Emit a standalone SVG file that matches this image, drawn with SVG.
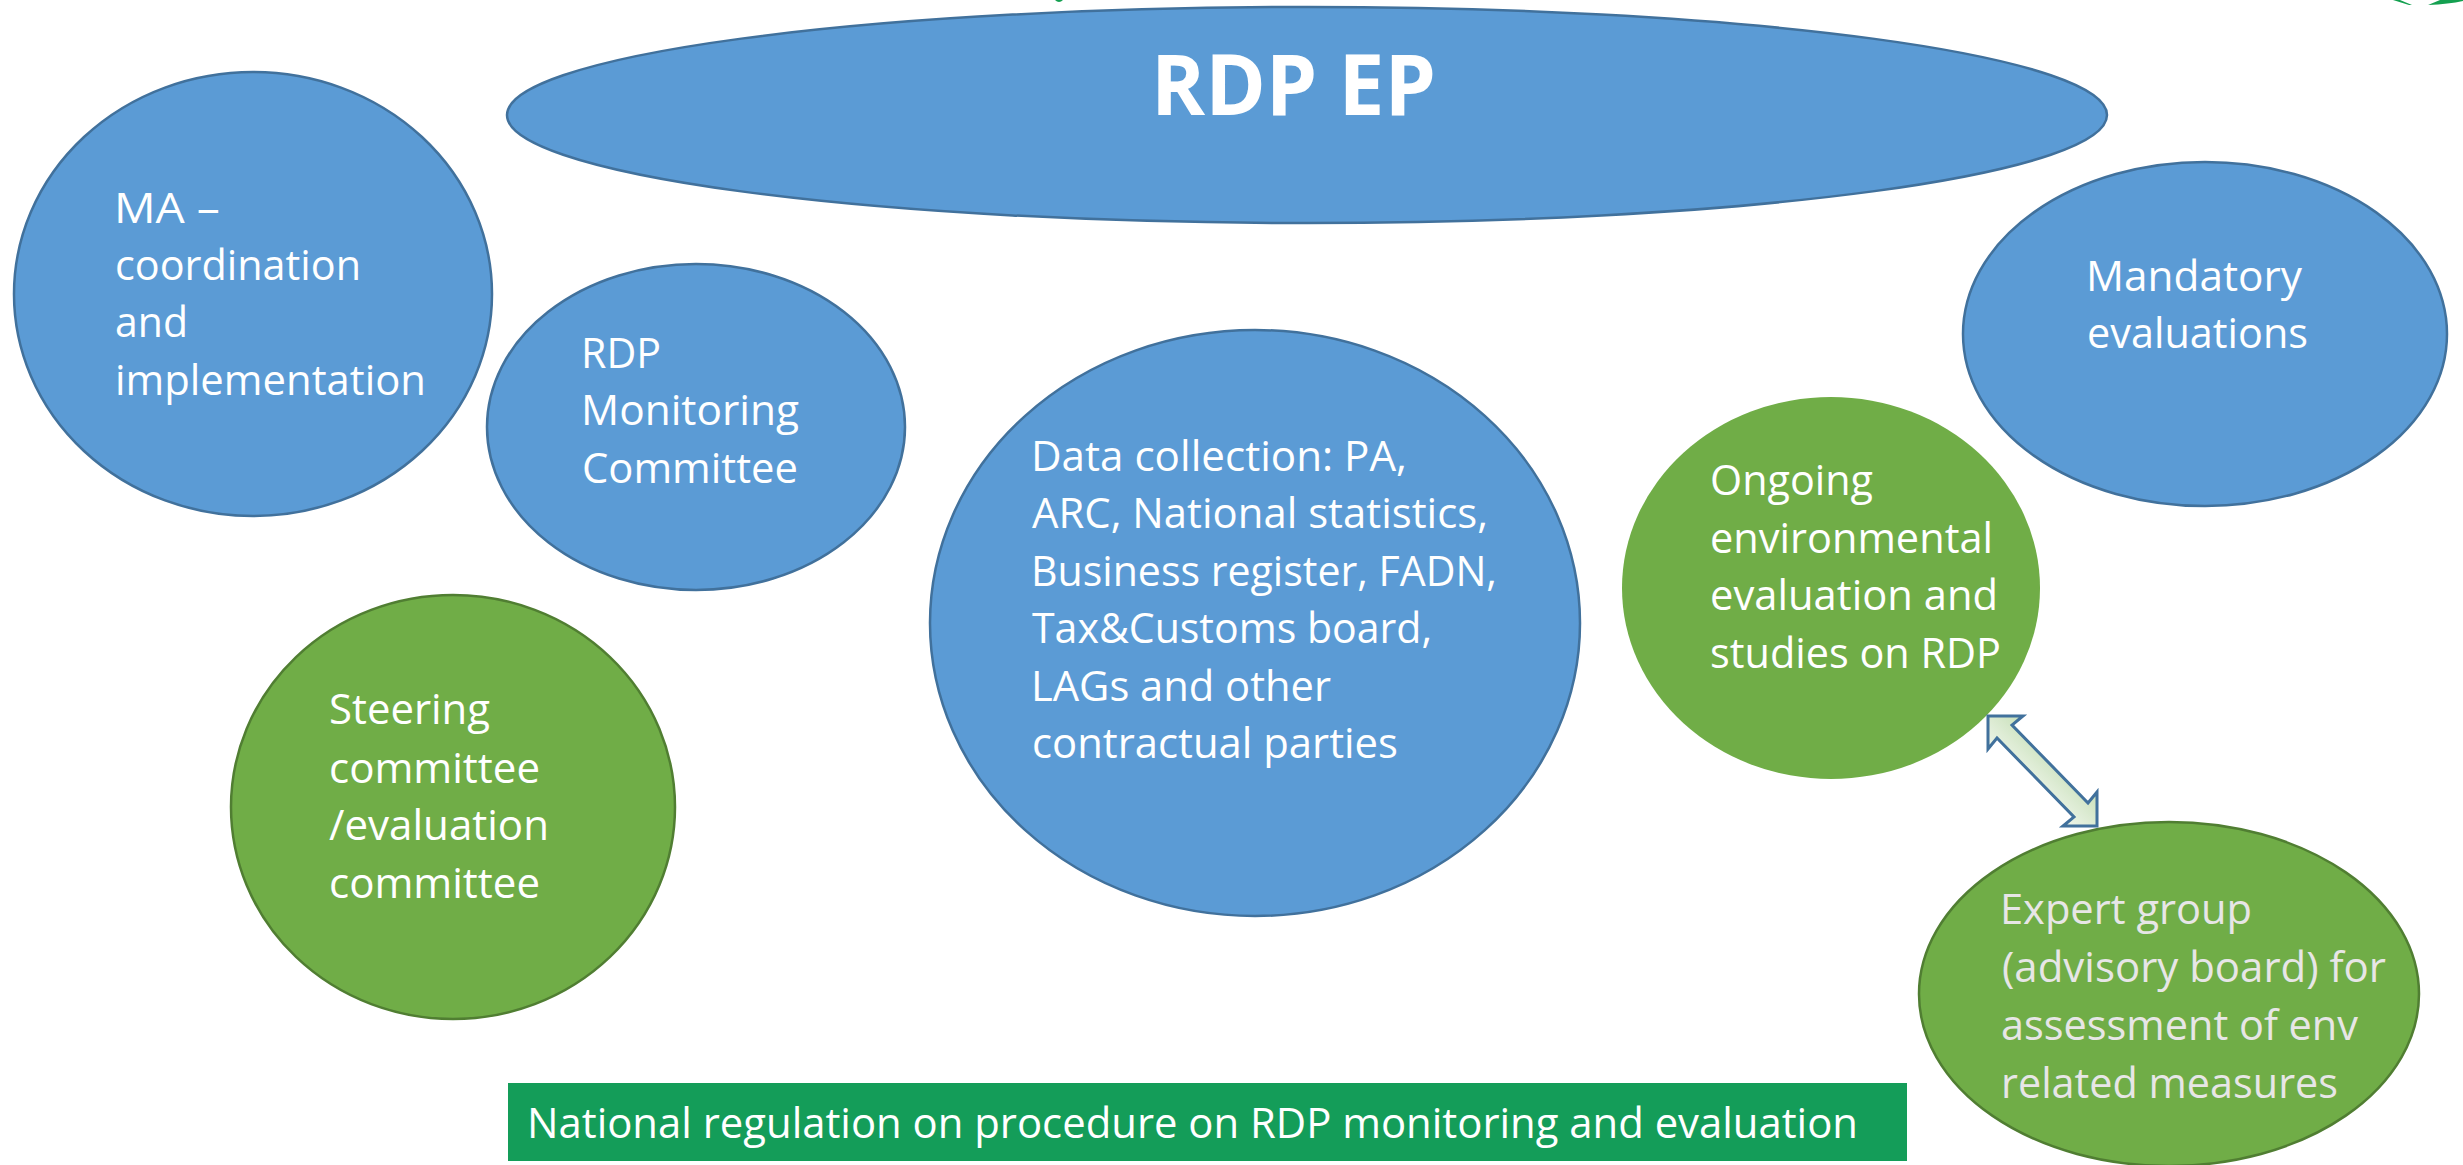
<svg xmlns="http://www.w3.org/2000/svg" width="2463" height="1165" viewBox="0 0 2463 1165">
<style>
text{font-family:"Open Sans","Noto Sans","Liberation Sans",sans-serif;fill:#fff;font-size:42px}
.b{fill:#5b9bd5;stroke:#41719c;stroke-width:2.5}
.g{fill:#70ad47;stroke:#507e32;stroke-width:2.5}
.n{fill:#70ad47}
.x text{fill:#e7e6e6}
</style>
<defs><linearGradient id="ag" gradientUnits="userSpaceOnUse" x1="2020" y1="790" x2="2060" y2="750"><stop offset="0" stop-color="#f5f9f2"/><stop offset="1" stop-color="#c5deb5"/></linearGradient></defs>
<rect width="2463" height="1165" fill="#fff"/>
<g id="marks" fill="#14a050"><path d="M1055 0h8q-4 4-8 0z"/><path d="M2393 0h7l12 5h-3zM2428 5l12-5h23v1q-14 3-35 4z"/></g>
<g id="rdp-ep"><ellipse class="b" cx="1307" cy="115" rx="800" ry="108"/><text x="1151" y="115" textLength="285" lengthAdjust="spacingAndGlyphs" style="font-size:85px;font-weight:700">RDP EP</text></g>
<g id="ma"><ellipse class="b" cx="253" cy="294" rx="239" ry="222"/><text x="114" y="223" textLength="106" lengthAdjust="spacingAndGlyphs">MA –</text><text x="115" y="280" textLength="246" lengthAdjust="spacingAndGlyphs">coordination</text><text x="115" y="337" textLength="73" lengthAdjust="spacingAndGlyphs">and</text><text x="115" y="395" textLength="311" lengthAdjust="spacingAndGlyphs">implementation</text></g>
<g id="monitoring"><ellipse class="b" cx="696" cy="427" rx="209" ry="163"/><text x="581" y="368" textLength="80" lengthAdjust="spacingAndGlyphs">RDP</text><text x="581" y="425" textLength="218" lengthAdjust="spacingAndGlyphs">Monitoring</text><text x="582" y="483" textLength="216" lengthAdjust="spacingAndGlyphs">Committee</text></g>
<g id="data"><ellipse class="b" cx="1255" cy="623" rx="325" ry="293"/><text x="1031" y="471" textLength="376" lengthAdjust="spacingAndGlyphs">Data collection: PA,</text><text x="1032" y="528" textLength="456" lengthAdjust="spacingAndGlyphs">ARC, National statistics,</text><text x="1031" y="586" textLength="466" lengthAdjust="spacingAndGlyphs">Business register, FADN,</text><text x="1032" y="643" textLength="400" lengthAdjust="spacingAndGlyphs">Tax&amp;Customs board,</text><text x="1031" y="701" textLength="300" lengthAdjust="spacingAndGlyphs">LAGs and other</text><text x="1032" y="758" textLength="366" lengthAdjust="spacingAndGlyphs">contractual parties</text></g>
<g id="mandatory"><ellipse class="b" cx="2205" cy="334" rx="242" ry="172"/><text x="2086" y="291" textLength="216" lengthAdjust="spacingAndGlyphs">Mandatory</text><text x="2087" y="348" textLength="221" lengthAdjust="spacingAndGlyphs">evaluations</text></g>
<g id="ongoing"><ellipse class="n" cx="1831" cy="588" rx="209" ry="191"/><text x="1710" y="495" textLength="163" lengthAdjust="spacingAndGlyphs">Ongoing</text><text x="1710" y="553" textLength="283" lengthAdjust="spacingAndGlyphs">environmental</text><text x="1710" y="610" textLength="288" lengthAdjust="spacingAndGlyphs">evaluation and</text><text x="1710" y="668" textLength="291" lengthAdjust="spacingAndGlyphs">studies on RDP</text></g>
<g id="steering"><ellipse class="g" cx="453" cy="807" rx="222" ry="212"/><text x="329" y="724" textLength="161" lengthAdjust="spacingAndGlyphs">Steering</text><text x="329" y="783" textLength="211" lengthAdjust="spacingAndGlyphs">committee</text><text x="329" y="840" textLength="220" lengthAdjust="spacingAndGlyphs">/evaluation</text><text x="329" y="898" textLength="211" lengthAdjust="spacingAndGlyphs">committee</text></g>
<g id="expert" class="x"><ellipse class="g" cx="2169" cy="994" rx="250" ry="172"/><text x="2000" y="924" textLength="252" lengthAdjust="spacingAndGlyphs">Expert group</text><text x="2002" y="982" textLength="384" lengthAdjust="spacingAndGlyphs">(advisory board) for</text><text x="2001" y="1040" textLength="357" lengthAdjust="spacingAndGlyphs">assessment of env</text><text x="2001" y="1098" textLength="337" lengthAdjust="spacingAndGlyphs">related measures</text></g>
<g id="regulation"><rect x="508" y="1083" width="1399" height="78" fill="#149d59"/><text x="527" y="1138" textLength="1331" lengthAdjust="spacingAndGlyphs">National regulation on procedure on RDP monitoring and evaluation</text></g>
<g id="connectors"><path d="M1988 716h35l-11 9 76 78 9-11v34h-34l11-9-77-79-9 11z" fill="url(#ag)" stroke="#41719c" stroke-width="3"/></g>
</svg>
